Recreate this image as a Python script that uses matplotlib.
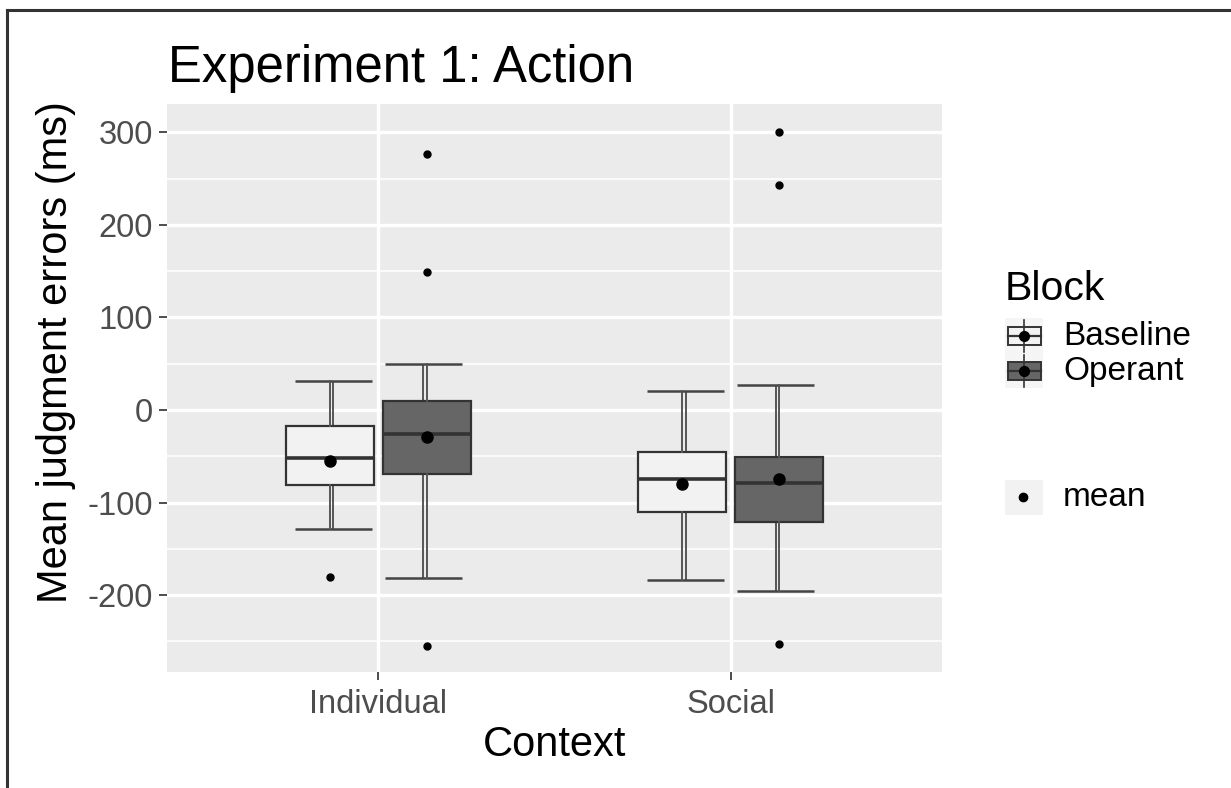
import matplotlib
matplotlib.use("Agg")
import matplotlib.pyplot as plt
from matplotlib.patches import Rectangle
from matplotlib.lines import Line2D

plt.rcParams['font.family'] = ['Liberation Sans', 'DejaVu Sans']

# ---- data -------------------------------------------------------------
categories = ["Individual", "Social"]
blocks = ["Baseline", "Operant"]

baseline_whislo = [-129, -184]
baseline_q1 = [-81, -110]
baseline_med = [-52, -74]
baseline_q3 = [-17, -45]
baseline_whishi = [31, 21]
baseline_mean = [-55, -80]
baseline_fliers = [[-180], []]

operant_whislo = [-181, -195]
operant_q1 = [-69, -121]
operant_med = [-26, -79]
operant_q3 = [10, -51]
operant_whishi = [50, 27]
operant_mean = [-29, -74]
operant_fliers = [[277, 149, -255], [300, 243, -253]]

yticks = [-200, -100, 0, 100, 200, 300]

# ---- styling ----------------------------------------------------------
W, H, DPI = 1231, 788, 100
panel_bg = "#EBEBEB"
fills = {"Baseline": "#F2F2F2", "Operant": "#666666"}
outline = "#333333"
dodge = 0.137
err_dodge = 0.128
box_w = 0.25
cap_w = 0.22

fig = plt.figure(figsize=(W / DPI, H / DPI), dpi=DPI)
fig.patch.set_facecolor("white")

px = lambda x0, y0, x1, y1: [x0 / W, 1 - y1 / H, (x1 - x0) / W, (y1 - y0) / H]
ax = fig.add_axes(px(167, 104, 942, 672))
ax.set_facecolor(panel_bg)
for s in ax.spines.values():
    s.set_visible(False)

ax.set_xlim(0.4, 2.6)
ax.set_ylim(-283, 330.5)

# grid: minor then major
for v in [-250, -150, -50, 50, 150, 250]:
    ax.axhline(v, color="white", lw=1.1, zorder=0.5)
for v in yticks:
    ax.axhline(v, color="white", lw=2.4, zorder=0.6)
xpos = list(range(1, len(categories) + 1))
for x in xpos:
    ax.axvline(x, color="white", lw=2.4, zorder=0.6)

series = [
    ("Baseline", -1, baseline_whislo, baseline_q1, baseline_med, baseline_q3,
     baseline_whishi, baseline_mean, baseline_fliers),
    ("Operant", 1, operant_whislo, operant_q1, operant_med, operant_q3,
     operant_whishi, operant_mean, operant_fliers),
]

for name, sgn, wlo, q1, med, q3, whi, mean, fl in series:
    stats = []
    for i in range(len(categories)):
        stats.append(dict(whislo=wlo[i], q1=q1[i], med=med[i], q3=q3[i],
                          whishi=whi[i], fliers=fl[i]))
    pos = [x + sgn * dodge for x in xpos]
    ax.bxp(stats, positions=pos, widths=box_w, patch_artist=True,
           showcaps=False, manage_ticks=False,
           boxprops=dict(facecolor=fills[name], edgecolor=outline, lw=1.6),
           medianprops=dict(color=outline, lw=2.6),
           whiskerprops=dict(color="#555555", lw=1.4),
           flierprops=dict(marker="o", markersize=5, markerfacecolor="black",
                           markeredgecolor="black"),
           zorder=2)
    # error-bar style whiskers with caps
    epos = [x + sgn * err_dodge for x in xpos]
    for i, xe in enumerate(epos):
        ax.vlines(xe, wlo[i], q1[i], color="#555555", lw=1.4, zorder=1.9)
        ax.vlines(xe, q3[i], whi[i], color="#555555", lw=1.4, zorder=1.9)
        ax.hlines([wlo[i], whi[i]], xe - cap_w / 2, xe + cap_w / 2,
                  color="#444444", lw=1.8, zorder=1.9)
    ax.plot(pos, mean, "o", color="black", markersize=8, zorder=3)

ax.set_xticks(xpos)
ax.set_xticklabels(categories)
ax.set_yticks(yticks)
ax.set_yticklabels([str(v) for v in yticks])
ax.tick_params(axis="both", colors="#4D4D4D", labelcolor="#4D4D4D",
               labelsize=23.5, length=6, width=1.4)
ax.tick_params(axis="y", pad=4)
ax.tick_params(axis="x", pad=6)
ax.set_xlabel("Context", fontsize=30, color="black", labelpad=4)
ax.set_ylabel("Mean judgment errors (ms)", fontsize=30, color="black")
ax.yaxis.set_label_coords(-0.117, 0.563)

fig.text(168 / W, 1 - 82 / H, "Experiment 1: Action", fontsize=36.6,
         ha="left", va="baseline", color="black")

# ---- legend, drawn in pixel space --------------------------------------
lg = fig.add_axes([0, 0, 1, 1])
lg.set_xlim(0, W)
lg.set_ylim(H, 0)
lg.axis("off")
lg.patch.set_alpha(0)

lg.text(1005, 300, "Block", fontsize=29.5, ha="left", va="baseline")
for k, (name, yc) in enumerate(zip(blocks, [336, 371])):
    lg.add_patch(Rectangle((1005, yc - 18), 38, 35, facecolor="#F5F5F5",
                           edgecolor="none"))
    lg.add_line(Line2D([1024, 1024], [yc - 16, yc + 16], color=outline, lw=1.2))
    lg.add_patch(Rectangle((1008, yc - 9), 33, 18, facecolor=fills[name],
                           edgecolor=outline, lw=1.4))
    lg.add_line(Line2D([1008, 1041], [yc, yc], color=outline, lw=1.6))
    lg.plot(1024, yc, "o", color="black", markersize=7)
    lg.text(1063, yc, name, fontsize=24, ha="left", va="center")

lg.add_patch(Rectangle((1005, 480), 38, 35, facecolor="#F2F2F2", edgecolor="none"))
lg.plot(1023, 497, "o", color="black", markersize=6)
lg.text(1063, 497, "mean", fontsize=24, ha="left", va="center")

# outer frame (top and left edges)
lg.add_line(Line2D([7, W], [10, 10], color="#333333", lw=2.2))
lg.add_line(Line2D([7, 7], [10, H], color="#333333", lw=2.2))

fig.savefig("out.png", dpi=DPI)
